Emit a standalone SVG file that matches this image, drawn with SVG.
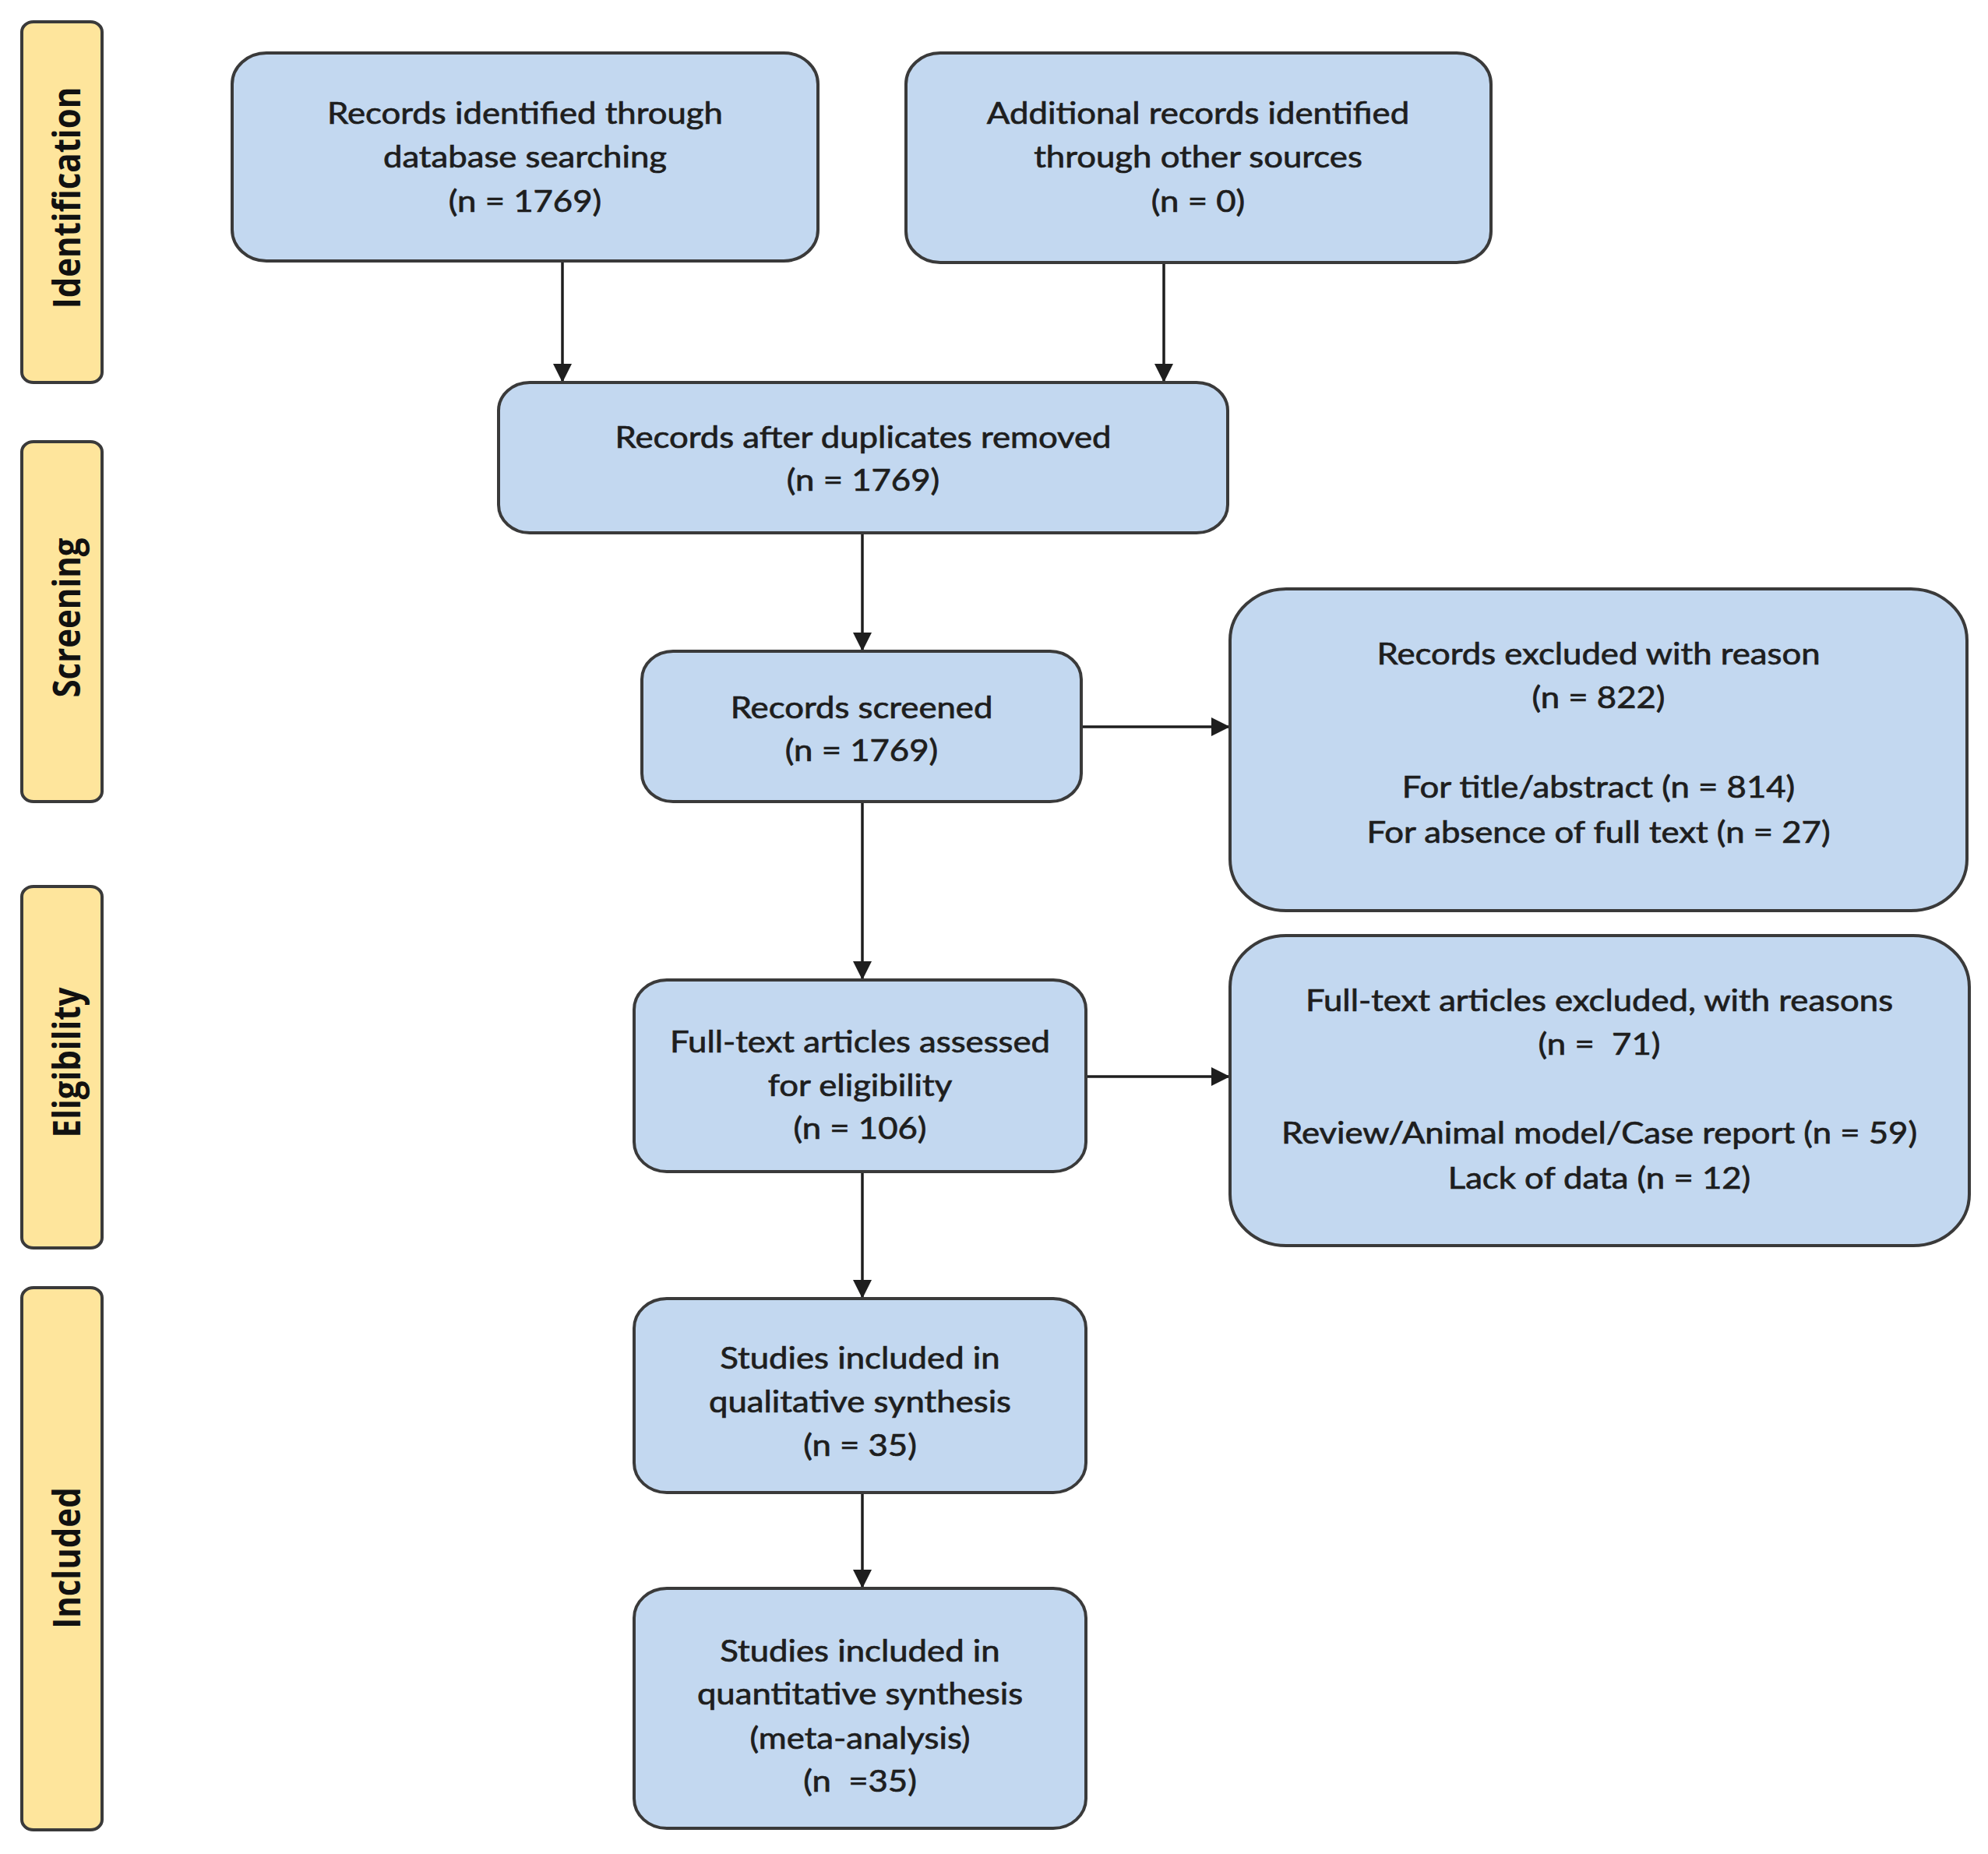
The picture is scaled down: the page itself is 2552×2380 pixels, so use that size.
<svg xmlns="http://www.w3.org/2000/svg" width="2552" height="2380" viewBox="0 0 2552 2380">
<defs>
<style>
.stage{fill:#FEE59C;stroke:#3A3A3A;stroke-width:4}
.box{fill:#C3D8F0;stroke:#3A3A3A;stroke-width:4}
.st{font-family:"Open Sans","DejaVu Sans",sans-serif;font-weight:700;font-size:42px;fill:#111;text-anchor:middle}
.t{font-family:Lato,"Liberation Sans",sans-serif;font-size:38px;fill:#1E1E1E;stroke:#1E1E1E;stroke-width:0.7;text-anchor:middle}
.conn line{stroke:#1E1E1E;stroke-width:3.5;fill:none}
</style>
<marker id="ah" viewBox="0 0 10 10" refX="10" refY="5" markerUnits="userSpaceOnUse" markerWidth="24" markerHeight="24" orient="auto">
<path d="M0,0 L10,5 L0,10 Z" fill="#1E1E1E"/>
</marker>
</defs>
<rect width="2552" height="2380" fill="#FFFFFF"/>

<g id="stage-identification">
<rect class="stage" x="28" y="28" width="103" height="463" rx="15" ry="13"/>
<text class="st" transform="translate(103 254) scale(1.13 1) rotate(-90)">Identification</text>
</g>
<g id="stage-screening">
<rect class="stage" x="28" y="567" width="103" height="462" rx="15" ry="13"/>
<text class="st" transform="translate(103 793) scale(1.13 1) rotate(-90)">Screening</text>
</g>
<g id="stage-eligibility">
<rect class="stage" x="28" y="1138" width="103" height="464" rx="15" ry="13"/>
<text class="st" transform="translate(103 1364) scale(1.13 1) rotate(-90)">Eligibility</text>
</g>
<g id="stage-included">
<rect class="stage" x="28" y="1653" width="103" height="696" rx="15" ry="13"/>
<text class="st" transform="translate(103 2000) scale(1.13 1) rotate(-90)">Included</text>
</g>

<g id="conn" class="conn">
<line x1="722" y1="335" x2="722" y2="491" marker-end="url(#ah)"/>
<line x1="1494" y1="337" x2="1494" y2="491" marker-end="url(#ah)"/>
<line x1="1107" y1="684" x2="1107" y2="836" marker-end="url(#ah)"/>
<line x1="1388" y1="933" x2="1579" y2="933" marker-end="url(#ah)"/>
<line x1="1107" y1="1029" x2="1107" y2="1258" marker-end="url(#ah)"/>
<line x1="1394" y1="1382" x2="1579" y2="1382" marker-end="url(#ah)"/>
<line x1="1107" y1="1504" x2="1107" y2="1667" marker-end="url(#ah)"/>
<line x1="1107" y1="1916" x2="1107" y2="2039" marker-end="url(#ah)"/>
</g>

<g id="node-identified">
<rect class="box" x="298" y="68" width="752" height="267" rx="44" ry="40"/>
<g transform="translate(674 0) scale(1.15 1)">
<text class="t" x="0" y="159">Records identified through</text>
<text class="t" x="0" y="215">database searching</text>
<text class="t" x="0" y="272">(n = 1769)</text>
</g>
</g>
<g id="node-additional">
<rect class="box" x="1163" y="68" width="751" height="269" rx="44" ry="40"/>
<g transform="translate(1538 0) scale(1.15 1)">
<text class="t" x="0" y="159">Additional records identified</text>
<text class="t" x="0" y="215">through other sources</text>
<text class="t" x="0" y="272">(n = 0)</text>
</g>
</g>
<g id="node-duplicates">
<rect class="box" x="640" y="491" width="936" height="193" rx="40" ry="36"/>
<g transform="translate(1108 0) scale(1.15 1)">
<text class="t" x="0" y="575">Records after duplicates removed</text>
<text class="t" x="0" y="630">(n = 1769)</text>
</g>
</g>
<g id="node-screened">
<rect class="box" x="824" y="836" width="564" height="193" rx="40" ry="36"/>
<g transform="translate(1106 0) scale(1.15 1)">
<text class="t" x="0" y="922">Records screened</text>
<text class="t" x="0" y="977">(n = 1769)</text>
</g>
</g>
<g id="node-excluded">
<rect class="box" x="1579" y="756" width="946" height="413" rx="72" ry="66"/>
<g transform="translate(2052 0) scale(1.15 1)">
<text class="t" x="0" y="853">Records excluded with reason</text>
<text class="t" x="0" y="909">(n = 822)</text>
<text class="t" x="0" y="1024">For title/abstract (n = 814)</text>
<text class="t" x="0" y="1082">For absence of full text (n = 27)</text>
</g>
</g>
<g id="node-assessed">
<rect class="box" x="814" y="1258" width="580" height="246" rx="42" ry="38"/>
<g transform="translate(1104 0) scale(1.15 1)">
<text class="t" x="0" y="1351">Full-text articles assessed</text>
<text class="t" x="0" y="1407">for eligibility</text>
<text class="t" x="0" y="1462">(n = 106)</text>
</g>
</g>
<g id="node-fulltext-excluded">
<rect class="box" x="1579" y="1201" width="949" height="398" rx="72" ry="66"/>
<g transform="translate(2053 0) scale(1.15 1)">
<text class="t" x="0" y="1298">Full-text articles excluded, with reasons</text>
<text class="t" x="0" y="1354" xml:space="preserve">(n =  71)</text>
<text class="t" x="0" y="1468">Review/Animal model/Case report (n = 59)</text>
<text class="t" x="0" y="1526">Lack of data (n = 12)</text>
</g>
</g>
<g id="node-qualitative">
<rect class="box" x="814" y="1667" width="580" height="249" rx="42" ry="38"/>
<g transform="translate(1104 0) scale(1.15 1)">
<text class="t" x="0" y="1757">Studies included in</text>
<text class="t" x="0" y="1813">qualitative synthesis</text>
<text class="t" x="0" y="1869">(n = 35)</text>
</g>
</g>
<g id="node-quantitative">
<rect class="box" x="814" y="2039" width="580" height="308" rx="42" ry="38"/>
<g transform="translate(1104 0) scale(1.15 1)">
<text class="t" x="0" y="2133">Studies included in</text>
<text class="t" x="0" y="2188">quantitative synthesis</text>
<text class="t" x="0" y="2245">(meta-analysis)</text>
<text class="t" x="0" y="2300" xml:space="preserve">(n  =35)</text>
</g>
</g>
</svg>
